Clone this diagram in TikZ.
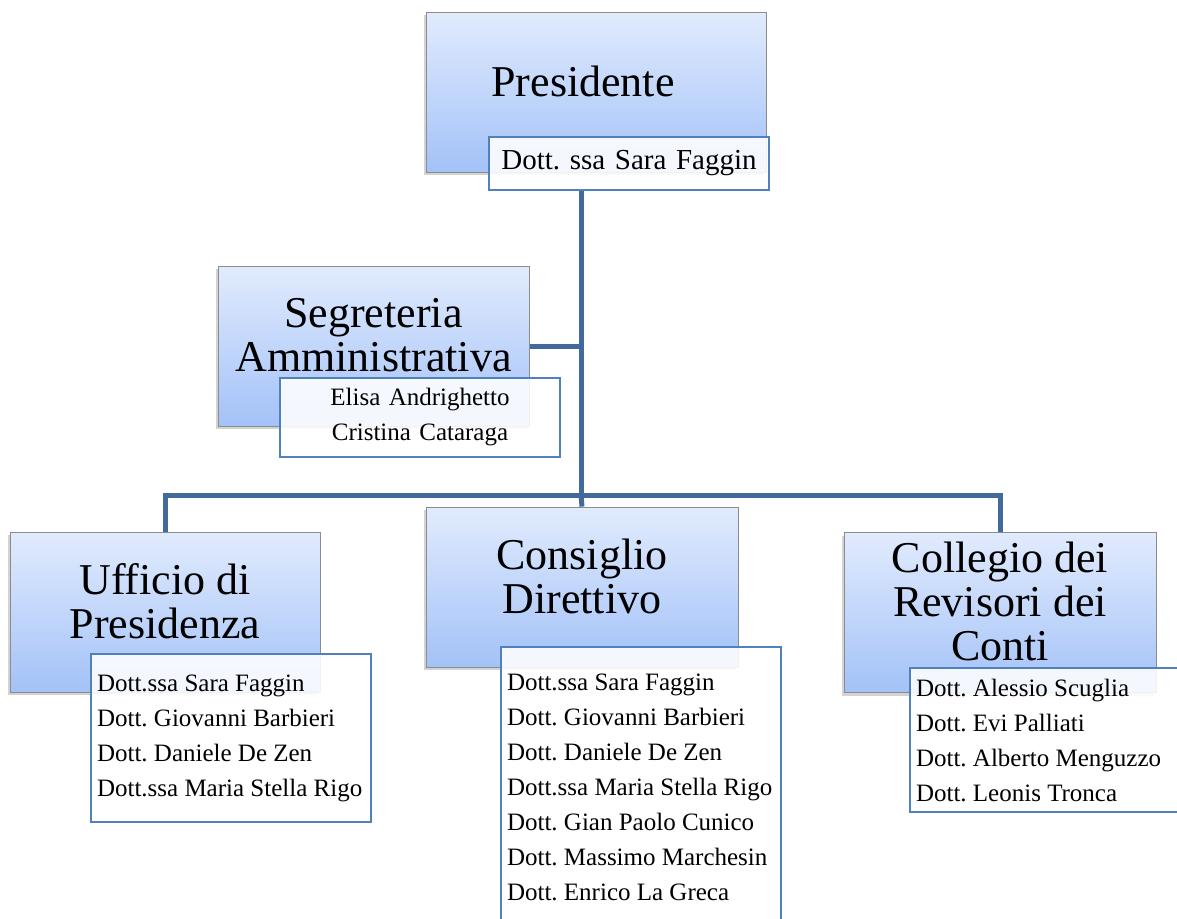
\documentclass[tikz,border=0pt]{standalone}
\usepackage{fontspec}
\setmainfont{Liberation Serif}
\usetikzlibrary{positioning, shadows, calc, backgrounds}
\definecolor{boxtop}{HTML}{E1EBFD}
\definecolor{boxbottom}{HTML}{A3C2F8}
\definecolor{linkblue}{HTML}{41699B}
\definecolor{listedge}{HTML}{4F81BD}
\frenchspacing

\begin{document}
\begin{tikzpicture}[x=1pt, y=-1pt,
    orgbox/.style={draw=gray!90, line width=0.8pt, top color=boxtop, bottom color=boxbottom, minimum height=160pt, drop shadow={shadow xshift=-2pt, shadow yshift=-3pt, opacity=0.35}},
    titletext/.style={align=center, font=\fontsize{44}{44}\selectfont, inner sep=0pt},
    namebox/.style={draw=listedge, line width=1.2pt, fill=white, fill opacity=0.88, text opacity=1, draw opacity=1, text width=268pt, inner xsep=6pt, inner ysep=0pt, align=flush left, font=\fontsize{25}{35}\selectfont\frenchspacing},
    link/.style={draw=linkblue, line width=5pt}]
    \useasboundingbox (0,0) rectangle (1177,918);

    % --- PRESIDENTE (Top) ---
    \node (presbox) [orgbox, minimum width=340pt] at (596,92) {};
    \node (prestitle) [titletext] at ([xshift=-13pt, yshift=11pt]presbox.center) {Presidente};
    \node (preslist) [namebox, align=center, minimum height=53pt, font=\fontsize{29}{35}\selectfont\frenchspacing] at (629,163.5) {Dott. ssa Sara Faggin};

    % --- SEGRETERIA ---
    \node (segbox) [orgbox, minimum width=311pt] at (373.5,346) {};
    \node (segtitle) [titletext] at ([yshift=11pt]segbox.center) {Segreteria\\Amministrativa};
    \node (seglist) [namebox, align=center, minimum height=79pt] at (420,417.5) {Elisa Andrighetto\\Cristina Cataraga};

    % --- UFFICIO DI PRESIDENZA ---
    \node (uffbox) [orgbox, minimum width=310pt] at (165,612) {};
    \node (ufftitle) [titletext] at ([yshift=11pt]uffbox.center) {Ufficio di\\Presidenza};
    \node (ufflist) [namebox, minimum height=168pt] at (231,738) {Dott.ssa Sara Faggin\\Dott. Giovanni Barbieri\\Dott. Daniele De Zen\\Dott.ssa Maria Stella Rigo};

    % --- CONSIGLIO DIRETTIVO ---
    \node (consbox) [orgbox, minimum width=312pt] at (582,587) {};
    \node (constitle) [titletext] at ([yshift=11pt]consbox.center) {Consiglio\\Direttivo};
    \node (conslist) [namebox, minimum height=280pt] at (641,787) {Dott.ssa Sara Faggin\\Dott. Giovanni Barbieri\\Dott. Daniele De Zen\\Dott.ssa Maria Stella Rigo\\Dott. Gian Paolo Cunico\\Dott. Massimo Marchesin\\Dott. Enrico La Greca};

    % --- COLLEGIO DEI REVISORI ---
    \node (collbox) [orgbox, minimum width=312pt] at (1000,612.5) {};
    \node (colltitle) [titletext] at ([yshift=11pt]collbox.center) {Collegio dei\\Revisori dei\\Conti};
    \node (colllist) [namebox, minimum height=144pt] at (1050,740) {Dott. Alessio Scuglia\\Dott. Evi Palliati\\Dott. Alberto Menguzzo\\Dott. Leonis Tronca};

    % Connectors
    \begin{scope}[on background layer]
        \coordinate (hub) at (581,495);
        \draw[link] (preslist.south -| hub) -- (hub);
        \draw[link] (segbox.east) -- (segbox.east -| hub);
        \draw[link] (uffbox.north) |- (hub) -| (collbox.north);
        \draw[link] (hub) -- (consbox.north);
    \end{scope}

\end{tikzpicture}
\end{document}
